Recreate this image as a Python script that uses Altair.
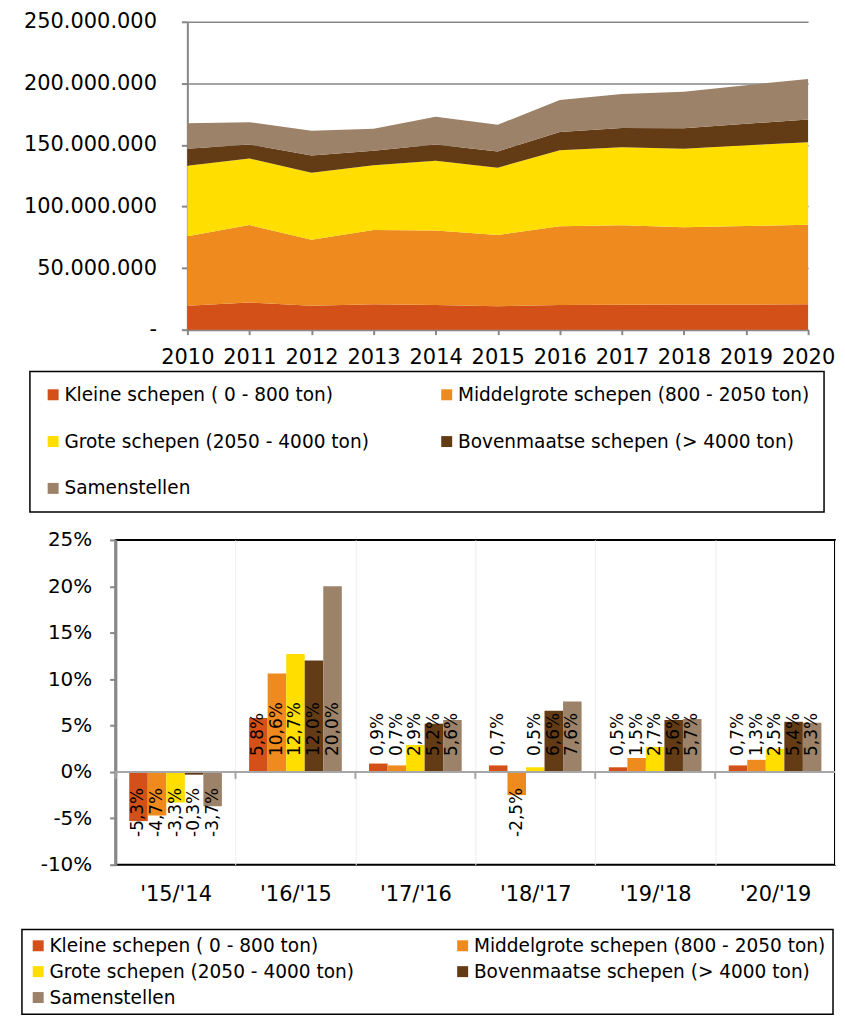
import altair as alt
import pandas as pd

# ---------------- data ----------------
years = list(range(2010, 2021))
series = [
    "Kleine schepen ( 0 - 800 ton)",
    "Middelgrote schepen (800 - 2050 ton)",
    "Grote schepen (2050 - 4000 ton)",
    "Bovenmaatse schepen (> 4000 ton)",
    "Samenstellen",
]
colors = ["#D35019", "#EF8A1E", "#FFDE00", "#633C16", "#9C8268"]

# transported volume per class, in million ton
kleine = [19.4, 22.0, 19.4, 20.7, 20.0, 19.0, 20.1, 20.3, 20.4, 20.5, 20.6]
middel = [56.4, 62.9, 53.7, 60.2, 60.6, 57.8, 63.9, 64.4, 62.8, 63.7, 64.5]
grote = [57.3, 54.1, 54.3, 52.7, 56.6, 54.7, 61.7, 63.5, 63.8, 65.5, 67.1]
boven = [13.9, 11.3, 14.0, 11.6, 13.2, 13.2, 14.8, 15.6, 16.6, 17.5, 18.4]
samen = [20.7, 18.2, 20.2, 18.0, 22.5, 21.7, 26.0, 27.5, 29.6, 31.3, 33.0]
top_values = [kleine, middel, grote, boven, samen]

y_ticks_top = [0, 50e6, 100e6, 150e6, 200e6, 250e6]

periods = ["'15/'14", "'16/'15", "'17/'16", "'18/'17", "'19/'18", "'20/'19"]
g_kleine = [-5.3, 5.8, 0.9, 0.7, 0.5, 0.7]
g_middel = [-4.7, 10.6, 0.7, -2.5, 1.5, 1.3]
g_grote = [-3.3, 12.7, 2.9, 0.5, 2.7, 2.5]
g_boven = [-0.3, 12.0, 5.2, 6.6, 5.6, 5.4]
g_samen = [-3.7, 20.0, 5.6, 7.6, 5.7, 5.3]
growth = [g_kleine, g_middel, g_grote, g_boven, g_samen]

y_ticks_bottom = [-10, -5, 0, 5, 10, 15, 20, 25]

# ---------------- tables ----------------
top_rows = []
for i, s in enumerate(series):
    for yr, v in zip(years, top_values[i]):
        top_rows.append({"year": yr, "series": s, "idx": i, "value": v * 1e6})
top_df = pd.DataFrame(top_rows)

bot_rows = []
for i, s in enumerate(series):
    for p, v in zip(periods, growth[i]):
        bot_rows.append({"period": p, "series": s, "idx": i, "value": v})
bot_df = pd.DataFrame(bot_rows)
period_df = pd.DataFrame({"period": periods})

FONT = "DejaVu Sans"
GRAY = "#878787"

# ---------------- top chart ----------------
# the top plot starts 72px to the right of the bottom plot
top = alt.Chart(top_df).mark_area(opacity=1).encode(
    x=alt.X(
        "year:Q",
        scale=alt.Scale(domain=[2010, 2020], nice=False, zero=False, range=[72, 695]),
        axis=alt.Axis(
            values=years, format="d", title=None, labelFontSize=21, labelFont=FONT,
            labelColor="black", labelFlush=False, labelOverlap=False, tickSize=5,
            tickColor=GRAY, tickWidth=2, domainColor=GRAY, domainWidth=2,
            labelPadding=12, grid=False,
        ),
    ),
    y=alt.Y(
        "value:Q",
        stack="zero",
        scale=alt.Scale(domain=[0, 250e6], nice=False),
        axis=alt.Axis(
            values=y_ticks_top, title=None, grid=True, gridColor=GRAY, gridWidth=1.5,
            labelExpr="datum.value == 0 ? '-\u00a0\u00a0' : format(datum.value / 1000000, 'd') + '.000.000'",
            labelFontSize=21, labelFont=FONT, labelColor="black", tickSize=6,
            tickColor=GRAY, tickWidth=2, domainColor=GRAY, domainWidth=2,
            labelPadding=25, offset=-72,
        ),
    ),
    color=alt.Color(
        "series:N",
        scale=alt.Scale(domain=series, range=colors),
        legend=alt.Legend(
            title=None, orient="none", legendX=-86, legendY=351, columns=2,
            direction="horizontal",
            symbolType="square", symbolSize=121, symbolStrokeWidth=0,
            labelFontSize=18.6, labelFont=FONT, labelColor="black", labelLimit=600,
            strokeColor="black", padding=14, rowPadding=28, columnPadding=68,
            labelOffset=2,
        ),
    ),
    order=alt.Order("idx:Q", sort="ascending"),
).properties(width=695, height=309, view=alt.ViewBackground(stroke="transparent"))

# ---------------- bottom chart ----------------
x_enc = alt.X(
    "period:N",
    scale=alt.Scale(domain=periods, paddingInner=0, paddingOuter=0),
    axis=alt.Axis(
        title=None, labelAngle=0, labelFontSize=21, labelFont=FONT, labelColor="black",
        domain=False, ticks=False, grid=True, gridColor="#ededed", gridWidth=1,
        tickBand="extent", labelPadding=19,
    ),
)
xoff_enc = alt.XOffset(
    "series:N", scale=alt.Scale(domain=series, paddingInner=0, paddingOuter=0.734)
)

base = alt.Chart(bot_df).transform_calculate(
    label="(datum.value < 0 ? '-' : '') + replace(format(abs(datum.value), '.1f'), '.', ',') + '%'"
)

bars = base.mark_bar().encode(
    x=x_enc,
    xOffset=xoff_enc,
    y=alt.Y(
        "value:Q",
        scale=alt.Scale(domain=[-10, 25], nice=False, zero=False),
        axis=alt.Axis(
            values=y_ticks_bottom, title=None, grid=False,
            labelExpr="datum.value + '%'", labelFontSize=20, labelFont=FONT,
            labelColor="black", tickSize=6, tickColor=GRAY, tickWidth=2,
            domainColor=GRAY, domainWidth=2.5, labelPadding=18,
        ),
    ),
    color=alt.Color(
        "series:N",
        scale=alt.Scale(domain=series, range=colors),
        legend=alt.Legend(
            title=None, orient="none", legendX=-94, legendY=391, columns=2,
            direction="horizontal",
            symbolType="square", symbolSize=121, symbolStrokeWidth=0,
            labelFontSize=18.6, labelFont=FONT, labelColor="black", labelLimit=600,
            strokeColor="black", padding=7, rowPadding=7, columnPadding=99,
            labelOffset=2,
        ),
    ),
)

text_pos = base.transform_filter("datum.value >= 0").mark_text(
    angle=270, align="left", baseline="middle", dx=16, fontSize=17, font=FONT, color="black"
).encode(x=x_enc, xOffset=xoff_enc, y=alt.datum(0), text="label:N")

text_neg = base.transform_filter("datum.value < 0").mark_text(
    angle=270, align="right", baseline="middle", dx=-16, fontSize=17, font=FONT, color="black"
).encode(x=x_enc, xOffset=xoff_enc, y=alt.datum(0), text="label:N")

zero_line = alt.Chart(period_df).mark_rule(color="#a6a6a6", strokeWidth=2).encode(
    y=alt.datum(0)
)

zero_ticks = alt.Chart(period_df).mark_rule(color="#a6a6a6", strokeWidth=2).encode(
    x=alt.X("period:N", bandPosition=0), y=alt.datum(0), y2=alt.datum(-0.75)
)

bottom = alt.layer(bars, zero_line, zero_ticks, text_pos, text_neg).properties(
    width=722, height=326, view=alt.ViewBackground(stroke="black", strokeWidth=2)
)

chart = alt.ConcatChart(
    concat=[top, bottom], columns=1, spacing=15
).resolve_scale(color="independent").resolve_legend(color="independent").properties(
    padding={"left": 12, "top": 0, "right": 0, "bottom": 0}
).configure(font=FONT).configure_legend(strokeWidth=1.5)

chart.save("out.html", embed_options={"renderer": "svg", "actions": False})
